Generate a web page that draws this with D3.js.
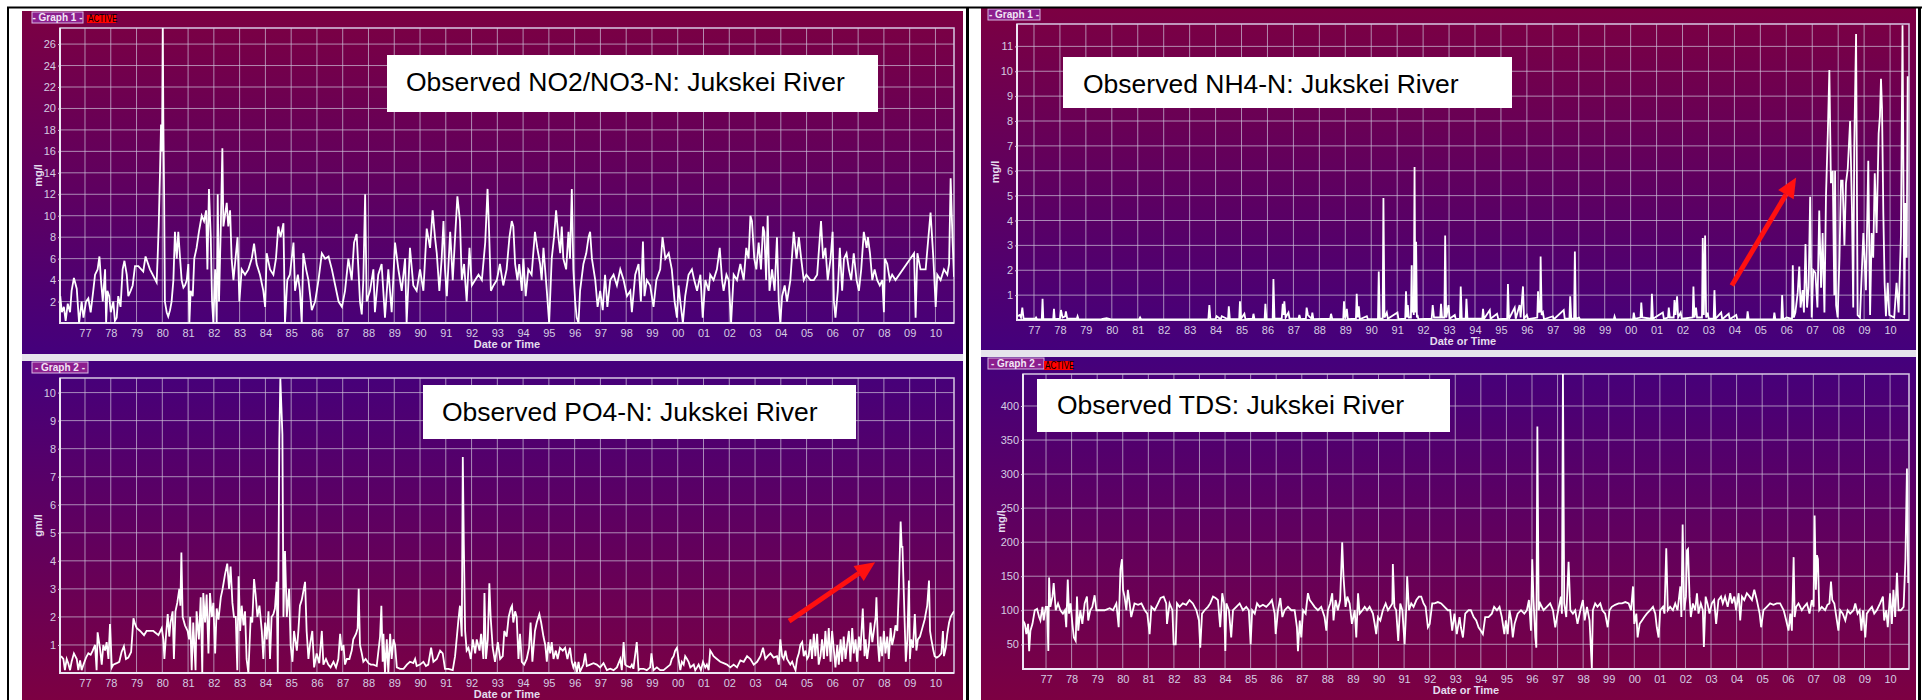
<!DOCTYPE html>
<html>
<head>
<meta charset="utf-8">
<script src="https://cdn.jsdelivr.net/npm/d3@7"></script>
<style>
  body { margin: 0; background: #fff; }
  svg { display: block; }
</style>
</head>
<body>
<script>
// ---- data (decimal years since 1900, concentration) ----
const no3 = [[76.04,2.5],[76.1,1.0],[76.18,1.5],[76.25,0.2],[76.33,1.8],[76.42,1.0],[76.48,3.0],[76.57,4.2],[76.68,3.2],[76.77,0],[76.87,2.0],[76.94,0.5],[77.04,2.0],[77.13,2.3],[77.22,1.0],[77.32,3.0],[77.39,4.5],[77.49,5.0],[77.56,6.2],[77.62,4.0],[77.69,2.0],[77.78,5.0],[77.82,0],[77.87,3.0],[77.94,2.5],[78.0,1.0],[78.1,2.0],[78.16,0.2],[78.23,0.5],[78.29,2.5],[78.38,1.5],[78.46,5.0],[78.53,5.8],[78.62,4.5],[78.68,2.5],[78.77,3.0],[78.85,3.5],[78.94,5.3],[79.07,5.3],[79.26,4.8],[79.35,6.2],[79.52,5.0],[79.78,3.8],[79.82,6.2],[79.86,9],[79.91,14],[79.95,18.5],[79.99,16],[80.02,27.5],[80.04,19],[80.07,12],[80.1,2],[80.17,1],[80.23,0.6],[80.3,1.2],[80.36,2],[80.43,4],[80.49,8.5],[80.56,6],[80.62,8.5],[80.69,6],[80.75,4],[80.82,3.3],[80.88,3.5],[80.95,4],[81.01,5.5],[81.05,0],[81.1,3],[81.18,2.5],[81.24,6],[81.33,7],[81.42,8.5],[81.53,10],[81.62,9.5],[81.7,10.5],[81.75,5],[81.81,12.5],[81.88,8],[81.93,2],[81.98,0],[82.05,5],[82.11,0],[82.15,12],[82.2,2],[82.27,9],[82.33,16.3],[82.37,9],[82.43,10],[82.5,11.2],[82.56,9],[82.63,10.5],[82.69,6],[82.76,4],[82.82,5.5],[82.92,8],[82.99,2],[83.08,5],[83.21,4.5],[83.34,5],[83.47,6],[83.56,7.4],[83.66,5.5],[83.79,4.5],[83.92,3],[83.99,1.5],[84.05,6.5],[84.18,5],[84.31,4.5],[84.41,6],[84.5,9],[84.59,8],[84.7,9.3],[84.76,0],[84.85,4],[84.95,4.5],[85.09,7.5],[85.15,3],[85.26,4.5],[85.34,3],[85.41,0],[85.47,6.5],[85.58,5],[85.67,4],[85.8,1.2],[85.93,2],[86.06,4],[86.19,6.5],[86.32,6],[86.45,6.2],[86.58,5],[86.71,3.5],[86.84,2],[86.97,1.5],[87.09,3],[87.22,6],[87.35,4],[87.44,7.5],[87.54,8.3],[87.61,5],[87.67,2],[87.74,0.8],[87.8,4],[87.87,12],[87.93,2],[88.06,3],[88.19,5],[88.25,1],[88.38,4.5],[88.51,5.5],[88.64,0.5],[88.77,5],[88.9,1],[89.03,7.5],[89.16,5],[89.29,3],[89.42,6],[89.48,0],[89.61,7],[89.74,3.5],[89.87,3],[90.0,5],[90.13,3],[90.26,8.8],[90.39,7],[90.49,10.5],[90.58,8],[90.65,6.5],[90.75,3],[90.84,6],[90.91,9.5],[90.97,5],[91.04,2.5],[91.17,8.5],[91.27,4],[91.36,8],[91.45,11.8],[91.55,9.5],[91.62,4],[91.71,5.5],[91.81,2],[91.92,7],[92.01,3.5],[92.14,4],[92.27,4.5],[92.4,4],[92.53,7.5],[92.62,12.5],[92.68,8.5],[92.75,3],[92.85,3.5],[92.98,4],[93.1,5.5],[93.23,3.5],[93.36,5],[93.47,8],[93.56,9.5],[93.62,9],[93.69,5.5],[93.78,4],[93.85,5.5],[93.95,3],[94.01,6],[94.1,2.5],[94.2,5],[94.33,4.5],[94.46,8.5],[94.55,7],[94.66,5.5],[94.72,4],[94.79,7],[94.92,3],[95.01,0],[95.11,6],[95.2,8],[95.28,10.5],[95.37,8],[95.44,6.5],[95.5,9],[95.56,6],[95.67,5],[95.76,8.5],[95.82,6],[95.89,12.5],[95.95,5],[96.02,2],[96.08,0.5],[96.15,0],[96.21,3],[96.34,5.5],[96.45,6.5],[96.54,8],[96.6,8.5],[96.67,6],[96.8,4],[96.89,1.5],[96.99,3],[97.09,1.2],[97.18,4.5],[97.27,1.5],[97.38,4],[97.51,4.5],[97.64,3.5],[97.77,5],[97.9,4],[98.03,2.5],[98.16,3],[98.22,1],[98.35,4.5],[98.48,5.5],[98.57,2],[98.65,7.6],[98.71,2.5],[98.8,4],[98.93,3.5],[99.06,1.5],[99.17,4],[99.32,5],[99.41,8],[99.52,6],[99.65,6.5],[99.77,5],[99.88,2],[99.97,0.5],[100.03,3.5],[100.1,2],[100.2,0],[100.29,2.5],[100.42,4.5],[100.55,5],[100.64,4],[100.75,3],[100.88,4.5],[100.97,0.5],[101.07,4],[101.2,3],[101.26,4.5],[101.39,4],[101.52,5],[101.63,7],[101.72,4],[101.78,3],[101.89,4.5],[101.98,4],[102.07,0],[102.17,4.5],[102.3,4],[102.43,5.5],[102.56,4],[102.66,7],[102.75,6],[102.82,10],[102.88,9.5],[102.97,6],[103.05,5],[103.14,7.5],[103.23,5],[103.31,9],[103.36,8.5],[103.43,4],[103.49,10],[103.56,3],[103.66,5],[103.76,3],[103.85,8],[103.92,2],[103.98,0],[104.05,2.5],[104.15,3.5],[104.24,2],[104.37,4],[104.5,8.5],[104.61,6],[104.7,8],[104.79,6],[104.89,4],[104.99,4.5],[105.15,4],[105.28,4],[105.41,4.5],[105.56,9.5],[105.64,6],[105.73,7],[105.82,4],[105.93,6],[106.01,8.5],[106.06,2],[106.12,0.5],[106.21,3],[106.29,7],[106.38,3],[106.45,6],[106.55,6.5],[106.64,5],[106.73,4],[106.83,6.5],[106.94,4],[107.03,3],[107.12,5],[107.22,8.5],[107.33,7],[107.38,8],[107.46,6.5],[107.55,4],[107.64,5],[107.74,4],[107.84,3.5],[107.94,4],[108.0,1],[108.04,6],[108.13,5.5],[108.23,4],[108.32,4.5],[108.45,4],[109.17,6.5],[109.23,0.5],[109.3,6.5],[109.42,5],[109.62,5],[109.81,10.3],[109.92,6],[110.01,1.5],[110.07,4.5],[110.2,4],[110.33,5],[110.46,4.5],[110.53,5.5],[110.59,13.5],[110.66,8],[110.72,4.3]];

const nh4 = [[76.36,0.15],[76.45,0.2],[76.5,0.1],[76.55,0.5],[76.6,0.05],[77.05,0.05],[77.08,0.1],[77.12,0.02],[77.3,0.02],[77.33,0.85],[77.36,0.03],[77.74,0.03],[77.77,0.45],[77.8,0.03],[78.0,0.05],[78.04,0.4],[78.1,0.1],[78.2,0.15],[78.23,0.35],[78.28,0.05],[78.65,0.05],[78.68,0.15],[78.72,0.02],[79.6,0.03],[79.8,0.07],[80.0,0.02],[81.05,0.02],[81.09,0.1],[81.13,0.02],[83.72,0.02],[83.76,0.6],[83.8,0.03],[84.0,0.03],[84.04,0.15],[84.2,0.03],[84.24,0.15],[84.48,0.03],[84.51,0.55],[84.55,0.03],[84.91,0.03],[84.94,0.75],[84.98,0.05],[85.11,0.25],[85.15,0.03],[85.43,0.05],[85.46,0.25],[85.5,0.03],[85.89,0.03],[85.92,0.65],[85.96,0.03],[86.2,0.03],[86.23,1.65],[86.27,0.05],[86.55,0.05],[86.59,0.65],[86.62,0.2],[86.65,0.75],[86.7,0.1],[86.81,0.3],[86.85,0.05],[87.2,0.05],[87.23,0.2],[87.27,0.03],[87.48,0.05],[87.51,0.5],[87.56,0.2],[87.7,0.05],[87.73,0.3],[87.77,0.03],[88.42,0.05],[88.45,0.25],[88.5,0.03],[88.92,0.03],[88.95,0.75],[89.0,0.05],[89.06,0.45],[89.1,0.03],[89.41,0.05],[89.44,1.05],[89.48,0.1],[89.52,0.55],[89.56,0.03],[89.83,0.15],[89.87,0.03],[90.26,0.03],[90.29,1.95],[90.33,0.05],[90.44,0.05],[90.47,4.9],[90.51,0.1],[90.6,0.3],[90.64,0.05],[91.01,0.3],[91.05,0.03],[91.31,0.05],[91.34,1.15],[91.38,0.1],[91.41,0.6],[91.45,0.1],[91.53,0.1],[91.56,2.2],[91.58,0.3],[91.6,0.9],[91.64,0.2],[91.67,6.15],[91.7,0.3],[91.73,3.15],[91.76,0.1],[91.78,0.2],[91.82,0.03],[92.33,0.05],[92.37,0.6],[92.42,0.1],[92.66,0.1],[92.69,0.65],[92.73,0.1],[92.82,0.1],[92.85,3.4],[92.89,0.1],[92.98,0.6],[93.02,0.05],[93.22,0.2],[93.26,0.03],[93.42,0.05],[93.45,1.35],[93.49,0.05],[93.64,0.05],[93.67,0.85],[93.71,0.05],[94.28,0.05],[94.31,0.45],[94.35,0.05],[94.57,0.4],[94.6,0.05],[94.85,0.25],[94.9,0.03],[95.24,0.05],[95.27,1.45],[95.31,0.05],[95.53,0.5],[95.57,0.05],[95.72,0.6],[95.76,0.1],[95.85,1.35],[95.89,0.05],[96.0,0.2],[96.05,0.03],[96.4,0.1],[96.43,1.15],[96.46,0.3],[96.49,0.6],[96.51,0.3],[96.53,2.55],[96.57,0.2],[96.62,0.3],[96.66,0.03],[97.0,0.15],[97.04,0.03],[97.42,0.4],[97.46,0.05],[97.64,0.05],[97.67,0.95],[97.71,0.05],[97.82,0.05],[97.85,2.75],[97.89,0.05],[98.01,0.1],[98.05,0.02],[99.35,0.02],[99.38,0.15],[99.42,0.02],[100.09,0.02],[100.12,0.3],[100.16,0.05],[100.38,0.1],[100.41,0.7],[100.45,0.1],[100.79,0.05],[100.82,1.05],[100.86,0.05],[101.24,0.3],[101.28,0.05],[101.44,0.1],[101.47,0.5],[101.51,0.1],[101.66,0.1],[101.69,0.8],[101.73,0.2],[101.79,0.95],[101.83,0.1],[101.93,0.3],[101.97,0.05],[102.39,0.1],[102.42,1.35],[102.46,0.1],[102.52,0.5],[102.56,0.1],[102.75,0.1],[102.78,3.3],[102.82,0.2],[102.87,3.4],[102.91,0.1],[102.97,0.3],[103.01,0.05],[103.2,0.05],[103.23,1.2],[103.27,0.05],[103.49,0.3],[103.53,0.03],[103.78,0.25],[103.82,0.03],[104.07,0.2],[104.11,0.02],[104.48,0.02],[104.51,0.35],[104.55,0.02],[105.51,0.02],[105.54,0.3],[105.58,0.02],[105.81,0.02],[105.84,1.0],[105.88,0.02],[106.02,0.1],[106.22,0.05],[106.25,2.2],[106.29,0.1],[106.35,0.3],[106.44,1.1],[106.5,2.15],[106.55,0.5],[106.63,1.2],[106.68,0.3],[106.74,3.05],[106.8,0.5],[106.86,1.3],[106.92,4.95],[106.98,0.1],[107.04,2.0],[107.12,1.9],[107.2,0.5],[107.27,4.4],[107.34,1.3],[107.4,3.5],[107.47,0.3],[107.53,5.0],[107.6,7.5],[107.66,10.05],[107.72,5.5],[107.79,6.0],[107.85,1.0],[107.88,6.0],[107.92,0.6],[107.98,0.1],[108.05,2.5],[108.11,5.6],[108.17,5.6],[108.24,3.0],[108.3,5.5],[108.37,6.1],[108.46,8.0],[108.53,4.5],[108.58,0.5],[108.62,7.0],[108.69,11.5],[108.75,0.2],[108.84,0.1],[108.97,3.5],[109.07,1.2],[109.16,6.4],[109.23,0.2],[109.29,3.5],[109.35,2.5],[109.41,5.9],[109.48,3.5],[109.56,7.5],[109.61,8.2],[109.65,9.7],[109.69,8.5],[109.74,4.3],[109.79,1.5],[109.84,0.15],[109.91,1.5],[109.97,0.2],[110.16,0.1],[110.25,1.5],[110.33,0.3],[110.42,3.4],[110.48,11.85],[110.55,0.2],[110.59,4.7],[110.64,2.5],[110.68,9.8]];

const po4 = [[76.07,0.6],[76.16,0.5],[76.22,0.1],[76.29,0.5],[76.35,0.35],[76.42,0.1],[76.48,0.4],[76.57,0.7],[76.68,0.5],[76.74,0.1],[76.81,0.45],[76.87,0.1],[76.94,0.3],[77.04,0.55],[77.13,0.7],[77.22,0.65],[77.3,0.8],[77.39,1.0],[77.45,0.1],[77.49,1.45],[77.58,0.9],[77.65,0.3],[77.71,1.0],[77.78,0.8],[77.84,1.1],[77.91,0.5],[77.97,1.75],[78.04,0.2],[78.1,0.3],[78.23,0.35],[78.33,0.4],[78.42,0.75],[78.51,0.95],[78.59,0.5],[78.68,0.55],[78.79,0.75],[78.88,1.95],[78.94,1.75],[79.01,1.6],[79.14,1.5],[79.29,1.35],[79.39,1.5],[79.65,1.5],[79.85,1.35],[79.98,1.6],[80.04,1.2],[80.08,0.5],[80.14,1.3],[80.21,2.1],[80.27,1.3],[80.32,1.8],[80.4,2.2],[80.45,0.5],[80.51,2.2],[80.58,2.5],[80.66,3.0],[80.7,2.4],[80.74,4.3],[80.79,2.0],[80.88,1.7],[80.98,1.5],[81.04,1.2],[81.08,2.0],[81.14,0.1],[81.2,1.8],[81.29,0.1],[81.33,2.2],[81.42,1.2],[81.49,2.7],[81.55,0],[81.59,2.85],[81.66,1.8],[81.72,2.8],[81.79,0.7],[81.85,2.85],[81.92,2.0],[81.98,2.5],[82.05,0.7],[82.11,2.3],[82.18,1.9],[82.27,2.7],[82.34,3.0],[82.43,3.5],[82.52,3.9],[82.59,3.0],[82.65,3.8],[82.72,2.5],[82.78,2.0],[82.85,2.0],[82.91,0.1],[82.96,3.45],[83.02,1.5],[83.08,2.4],[83.15,1.7],[83.21,2.2],[83.27,0.5],[83.34,0],[83.43,2.0],[83.49,1.8],[83.56,3.35],[83.62,2.8],[83.69,2.0],[83.77,2.4],[83.86,1.5],[83.92,0.5],[83.99,1.8],[84.05,1.2],[84.12,2.2],[84.18,0.5],[84.24,2.0],[84.31,2.1],[84.37,2.3],[84.44,3.25],[84.48,0],[84.54,8.3],[84.58,10.5],[84.62,9.5],[84.66,8.5],[84.7,2.0],[84.76,4.35],[84.83,2.0],[84.92,3.0],[84.98,1.0],[85.05,0.4],[85.11,1.5],[85.22,0.8],[85.28,1.5],[85.34,2.4],[85.41,2.6],[85.47,2.9],[85.54,3.25],[85.6,1.5],[85.67,0.5],[85.73,1.0],[85.82,1.5],[85.89,0.2],[85.99,0.7],[86.09,0.35],[86.19,1.5],[86.25,0.3],[86.35,0.5],[86.44,0.3],[86.53,0.2],[86.64,0.4],[86.74,0.2],[86.83,0.5],[86.9,1.4],[86.96,0.8],[87.03,1.0],[87.09,0.3],[87.16,0.5],[87.26,0.5],[87.35,0.8],[87.41,1.2],[87.52,1.4],[87.58,1.6],[87.62,3.0],[87.67,1.0],[87.74,0.7],[87.8,0.4],[87.89,0.5],[88.0,0.35],[88.09,0.3],[88.19,0.3],[88.32,0.25],[88.45,1.3],[88.5,2.4],[88.55,0.4],[88.58,1.4],[88.64,0],[88.71,1.2],[88.77,0],[88.84,1.4],[88.9,0.5],[88.97,1.2],[89.03,1.0],[89.1,0.2],[89.23,0.15],[89.36,0.15],[89.49,0.3],[89.61,0.4],[89.74,0.35],[89.81,0.5],[89.87,0.25],[90.0,0.3],[90.13,0.4],[90.23,0.25],[90.32,0.3],[90.43,0.9],[90.52,0.4],[90.65,0.5],[90.78,0.8],[90.88,0.7],[90.97,0.15],[91.1,0.15],[91.27,0.1],[91.36,0.6],[91.43,1.3],[91.49,1.9],[91.55,2.4],[91.62,1.3],[91.66,7.7],[91.7,4.6],[91.75,1.5],[91.81,0.8],[91.88,0.9],[91.97,0.5],[92.05,1.2],[92.14,0.7],[92.2,1.2],[92.31,0.8],[92.37,1.4],[92.46,0.5],[92.5,2.85],[92.56,0.5],[92.63,1.2],[92.69,3.2],[92.74,2.0],[92.82,0.9],[92.91,0.4],[93.02,1.1],[93.11,0.5],[93.21,0.6],[93.27,1.5],[93.36,1.3],[93.44,2.0],[93.52,2.3],[93.57,2.4],[93.62,1.8],[93.69,2.2],[93.75,2.0],[93.82,0.5],[93.88,1.4],[93.95,0.4],[94.04,0.3],[94.14,0.5],[94.23,0.9],[94.29,1.8],[94.36,0.4],[94.46,1.5],[94.53,1.8],[94.63,2.1],[94.7,1.8],[94.79,1.3],[94.86,1.0],[94.92,0.4],[94.98,1.1],[95.05,0.7],[95.11,1.1],[95.18,0.5],[95.27,0.8],[95.34,0.5],[95.43,0.9],[95.54,0.8],[95.63,0.9],[95.72,0.5],[95.82,0.9],[95.89,0.4],[95.95,0.2],[96.02,0.4],[96.08,0],[96.15,0.4],[96.21,0.05],[96.34,0.3],[96.41,0.7],[96.47,0.25],[96.6,0.3],[96.73,0.35],[96.86,0.3],[96.99,0.2],[97.12,0.35],[97.25,0.1],[97.38,0.15],[97.51,0.1],[97.64,0.2],[97.77,0.5],[97.83,0.1],[97.9,1.1],[97.96,0.3],[98.03,0.25],[98.16,0.2],[98.22,0.3],[98.28,0.15],[98.41,1.1],[98.48,0.1],[98.54,0.15],[98.67,0.15],[98.8,0.1],[98.93,0.2],[98.98,0.7],[99.06,0.1],[99.19,0.2],[99.32,0.1],[99.45,0.1],[99.58,0.2],[99.71,0.3],[99.77,0.5],[99.84,0.6],[99.9,0.8],[99.97,0.9],[100.03,0.5],[100.1,0.1],[100.16,0.4],[100.23,0.3],[100.29,0.6],[100.36,0.5],[100.42,0.4],[100.49,0.2],[100.62,0.3],[100.68,0.1],[100.75,0.2],[100.81,0.3],[100.9,0.1],[100.98,0.4],[101.07,0.2],[101.13,0.3],[101.2,0.1],[101.26,0.8],[101.33,0.7],[101.39,0.6],[101.52,0.5],[101.65,0.4],[101.78,0.35],[101.91,0.3],[102.04,0.2],[102.17,0.3],[102.3,0.2],[102.43,0.45],[102.56,0.4],[102.69,0.6],[102.82,0.5],[102.95,0.3],[103.08,0.4],[103.21,0.6],[103.31,0.9],[103.4,0.5],[103.49,0.6],[103.6,0.7],[103.72,0.55],[103.85,0.6],[103.92,0.3],[103.98,1.2],[104.05,0.6],[104.11,0.5],[104.18,0.8],[104.24,0.5],[104.37,0.3],[104.44,0.4],[104.5,0.25],[104.57,0.1],[104.63,0.5],[104.7,0.7],[104.76,1.0],[104.83,1.1],[104.89,0.6],[104.96,0.8],[105.02,0.5],[105.08,0.6],[105.15,1.2],[105.21,0.5],[105.28,1.4],[105.34,0.6],[105.41,1.4],[105.47,0.3],[105.54,0.6],[105.6,1.2],[105.67,0.5],[105.73,1.5],[105.8,0.6],[105.86,1.6],[105.93,0.4],[105.99,1.5],[106.06,0.8],[106.12,0.2],[106.19,1.0],[106.25,0.3],[106.32,1.2],[106.38,0.4],[106.44,1.3],[106.51,0.5],[106.57,1.0],[106.64,1.5],[106.7,0.4],[106.77,1.6],[106.83,0.7],[106.9,1.2],[106.96,0.4],[107.03,1.3],[107.09,0.8],[107.18,2.3],[107.25,0.6],[107.29,1.2],[107.35,0.5],[107.42,1.0],[107.48,1.8],[107.55,1.1],[107.61,1.5],[107.68,2.0],[107.71,2.7],[107.77,1.0],[107.82,0.4],[107.87,1.3],[107.93,0.6],[108.0,1.5],[108.06,0.7],[108.13,1.3],[108.19,0.5],[108.26,1.6],[108.32,1.0],[108.39,1.3],[108.45,1.7],[108.52,1.5],[108.58,3.0],[108.65,5.4],[108.69,4.5],[108.72,4.5],[108.78,2.6],[108.85,0.4],[108.91,1.2],[108.97,3.3],[109.01,0.5],[109.06,1.2],[109.13,0.9],[109.2,2.1],[109.26,0.8],[109.32,1.2],[109.4,1.3],[109.49,1.6],[109.58,1.9],[109.68,2.4],[109.75,3.3],[109.79,1.5],[109.84,1.2],[109.92,0.8],[109.97,0.6],[110.05,0.55],[110.14,0.6],[110.23,0.7],[110.29,1.5],[110.33,0.6],[110.4,0.9],[110.46,1.4],[110.53,1.8],[110.59,2.0],[110.65,2.1],[110.72,2.2]];

const tds = [[76.1,85],[76.17,80],[76.23,65],[76.3,80],[76.34,40],[76.39,70],[76.47,80],[76.56,100],[76.65,102],[76.73,90],[76.78,85],[76.86,105],[76.91,85],[76.99,105],[77.04,105],[77.09,40],[77.12,148],[77.17,105],[77.25,120],[77.3,140],[77.38,100],[77.47,110],[77.56,100],[77.66,95],[77.74,100],[77.79,75],[77.85,145],[77.9,95],[77.96,110],[78.03,80],[78.09,60],[78.16,55],[78.21,120],[78.26,70],[78.34,100],[78.42,80],[78.51,110],[78.6,120],[78.65,85],[78.73,100],[78.81,105],[78.9,122],[78.97,100],[79.1,100],[79.29,100],[79.49,103],[79.62,100],[79.75,110],[79.84,75],[79.91,160],[79.97,175],[80.01,130],[80.07,120],[80.14,100],[80.2,130],[80.27,110],[80.33,90],[80.46,110],[80.6,108],[80.73,110],[80.86,100],[80.96,95],[81.05,65],[81.12,105],[81.25,100],[81.38,110],[81.48,118],[81.6,120],[81.7,110],[81.73,80],[81.83,110],[81.94,100],[81.99,50],[82.07,50],[82.12,110],[82.22,105],[82.35,110],[82.48,108],[82.61,115],[82.74,110],[82.88,100],[82.98,85],[83.03,45],[83.1,95],[83.2,100],[83.33,105],[83.42,110],[83.53,120],[83.63,118],[83.72,115],[83.81,75],[83.89,125],[83.96,110],[84.01,40],[84.05,110],[84.15,100],[84.24,60],[84.31,100],[84.44,105],[84.57,110],[84.7,100],[84.83,105],[84.93,100],[85.0,50],[85.06,100],[85.16,95],[85.25,110],[85.35,105],[85.48,108],[85.61,105],[85.74,110],[85.83,115],[85.94,95],[85.98,65],[86.07,100],[86.16,118],[86.24,90],[86.33,100],[86.46,105],[86.59,100],[86.72,100],[86.81,75],[86.85,40],[86.92,85],[86.98,60],[87.05,100],[87.15,95],[87.24,125],[87.31,115],[87.41,110],[87.5,105],[87.63,100],[87.76,105],[87.89,90],[87.96,70],[88.02,100],[88.11,110],[88.19,125],[88.24,85],[88.32,115],[88.41,100],[88.5,115],[88.58,200],[88.63,150],[88.71,105],[88.78,120],[88.87,110],[88.96,80],[89.07,100],[89.13,60],[89.2,125],[89.26,95],[89.37,100],[89.46,105],[89.55,100],[89.65,105],[89.78,95],[89.85,80],[89.91,65],[89.98,90],[90.07,85],[90.17,100],[90.28,110],[90.37,100],[90.46,105],[90.54,110],[90.56,168],[90.62,105],[90.69,100],[90.77,55],[90.85,110],[90.93,100],[91.02,50],[91.09,110],[91.12,150],[91.19,100],[91.28,110],[91.37,105],[91.48,115],[91.58,120],[91.67,120],[91.76,110],[91.84,105],[91.93,75],[92.0,80],[92.1,110],[92.19,110],[92.32,112],[92.45,110],[92.58,105],[92.71,100],[92.8,100],[92.88,70],[92.97,95],[93.06,65],[93.17,90],[93.22,75],[93.3,60],[93.39,95],[93.52,100],[93.61,100],[93.72,90],[93.82,85],[93.91,75],[94.0,70],[94.08,65],[94.17,90],[94.3,90],[94.43,95],[94.52,105],[94.63,100],[94.73,105],[94.82,90],[94.92,65],[94.98,85],[95.05,65],[95.12,100],[95.19,85],[95.25,60],[95.32,80],[95.44,95],[95.57,100],[95.7,95],[95.8,100],[95.88,115],[95.96,70],[96.01,175],[96.06,115],[96.13,60],[96.17,45],[96.21,370],[96.26,100],[96.32,110],[96.45,100],[96.58,105],[96.71,110],[96.82,100],[96.91,75],[97.0,95],[97.08,110],[97.13,120],[97.17,95],[97.21,447],[97.26,110],[97.34,90],[97.43,171],[97.5,100],[97.6,95],[97.69,100],[97.78,80],[97.89,100],[97.99,115],[98.06,85],[98.15,105],[98.25,85],[98.34,15],[98.38,100],[98.47,110],[98.56,105],[98.67,110],[98.75,100],[98.86,95],[98.96,75],[99.03,100],[99.12,105],[99.25,108],[99.39,110],[99.52,110],[99.65,112],[99.78,110],[99.87,100],[99.95,135],[100.0,80],[100.08,95],[100.13,60],[100.21,80],[100.3,85],[100.39,90],[100.49,95],[100.62,100],[100.73,105],[100.82,95],[100.88,75],[100.95,60],[101.01,100],[101.12,105],[101.18,95],[101.25,191],[101.31,100],[101.4,105],[101.51,100],[101.6,110],[101.69,100],[101.8,135],[101.84,90],[101.89,226],[101.95,100],[102.02,120],[102.06,188],[102.1,190],[102.16,120],[102.21,90],[102.29,110],[102.38,100],[102.45,125],[102.51,95],[102.6,110],[102.68,100],[102.72,46],[102.79,120],[102.86,110],[102.94,95],[103.03,110],[103.12,115],[103.2,80],[103.29,115],[103.39,120],[103.46,110],[103.55,120],[103.65,105],[103.75,125],[103.82,110],[103.91,120],[103.98,100],[104.08,125],[104.14,85],[104.21,120],[104.3,115],[104.4,125],[104.51,120],[104.6,115],[104.69,130],[104.79,115],[104.9,95],[104.96,75],[105.05,100],[105.18,105],[105.31,110],[105.44,108],[105.57,110],[105.7,110],[105.84,100],[105.94,85],[106.03,70],[106.1,95],[106.16,70],[106.23,178],[106.27,90],[106.33,105],[106.42,110],[106.55,100],[106.64,105],[106.75,110],[106.85,95],[106.94,115],[107.01,105],[107.05,239],[107.1,130],[107.14,181],[107.18,175],[107.23,100],[107.33,105],[107.46,100],[107.55,108],[107.63,110],[107.69,142],[107.74,115],[107.82,110],[107.92,85],[107.98,70],[108.05,100],[108.15,95],[108.25,85],[108.34,100],[108.44,95],[108.57,100],[108.64,110],[108.73,95],[108.81,100],[108.88,70],[108.94,100],[109.03,60],[109.09,95],[109.18,100],[109.29,105],[109.38,95],[109.48,100],[109.61,110],[109.72,120],[109.77,85],[109.85,100],[109.91,75],[110.0,125],[110.07,80],[110.13,130],[110.2,90],[110.27,155],[110.33,100],[110.42,100],[110.53,105],[110.6,175],[110.66,308],[110.71,140]];

// ---- ticks and labels ----
const yearTicks = [77,78,79,80,81,82,83,84,85,86,87,88,89,90,91,92,93,94,95,96,97,98,99,100,101,102,103,104,105,106,107,108,109,110];
const yearLabels = ["77","78","79","80","81","82","83","84","85","86","87","88","89","90","91","92","93","94","95","96","97","98","99","00","01","02","03","04","05","06","07","08","09","10"];
const no3Ticks = [2,4,6,8,10,12,14,16,18,20,22,24,26];
const nh4Ticks = [1,2,3,4,5,6,7,8,9,10,11];
const po4Ticks = [1,2,3,4,5,6,7,8,9,10];
const tdsTicks = [50,100,150,200,250,300,350,400];
const titles = ["Observed NO2/NO3-N: Jukskei River", "Observed NH4-N: Jukskei River",
                "Observed PO4-N: Jukskei River", "Observed TDS: Jukskei River"];
const units = ["mg/l", "mg/l", "gm/l", "mg/l"];
const graphTags = ["- Graph 1 -", "- Graph 1 -", "- Graph 2 -", "- Graph 2 -"];
// trend arrows drawn in data space [from, to]
const nh4Arrow = [[103.9, 1.39], [106.38, 5.73]];
const po4Arrow = [[104.32, 1.85], [107.66, 3.95]];

// ---- layout ----
const W = 1927, H = 700;
const FONT = "'Liberation Sans', Arial, sans-serif";

const layouts = [
  { series: no3, ticks: no3Ticks, yDom: [0, 27.5], xDom: [76.03, 110.72],
    panel: [22, 11, 963, 354], plot: [60, 28, 954, 323], grad: "gDown",
    tag: [32, 12, 51, 11], active: [87, 15, 29, 8],
    tbox: [387, 55, 491, 57], tpos: [406, 91], arrow: null },
  { series: nh4, ticks: nh4Ticks, yDom: [0, 11.9], xDom: [76.345, 110.73],
    panel: [981, 8, 1916, 350], plot: [1017, 24, 1909, 320], grad: "gDown",
    tag: [988, 9, 52, 11], active: null,
    tbox: [1063, 57, 449, 51], tpos: [1083, 92.5], arrow: nh4Arrow },
  { series: po4, ticks: po4Ticks, yDom: [0, 10.52], xDom: [76.03, 110.72],
    panel: [22, 361, 963, 700], plot: [60, 378, 954, 673], grad: "gUp",
    tag: [32, 362, 56, 11], active: null,
    tbox: [423, 385, 433, 54], tpos: [442, 421], arrow: po4Arrow },
  { series: tds, ticks: tdsTicks, yDom: [13.7, 447], xDom: [76.1, 110.74],
    panel: [981, 357, 1916, 700], plot: [1023, 374, 1909, 669], grad: "gUp",
    tag: [988, 358, 56, 11], active: [1044, 361, 29, 9],
    tbox: [1037, 379, 413, 53], tpos: [1057, 414], arrow: null }
];

const svg = d3.select("body").append("svg")
  .attr("width", W).attr("height", H)
  .style("font-family", FONT);

const defs = svg.append("defs");
function addGrad(id, top, bottom) {
  const g = defs.append("linearGradient").attr("id", id)
    .attr("x1", 0).attr("y1", 0).attr("x2", 0).attr("y2", 1);
  g.append("stop").attr("offset", "0%").attr("stop-color", top);
  g.append("stop").attr("offset", "100%").attr("stop-color", bottom);
}
addGrad("gDown", "#7c0042", "#44007c");
addGrad("gUp", "#44007c", "#7c0042");

// light separators between upper and lower graphs
svg.append("rect").attr("x", 22).attr("y", 354).attr("width", 941).attr("height", 7).attr("fill", "#e6e4ec");
svg.append("rect").attr("x", 981).attr("y", 350).attr("width", 935).attr("height", 7).attr("fill", "#e6e4ec");

layouts.forEach(function(L, i) {
  const [px0, py0, px1, py1] = L.panel;
  const [x0, y0, x1, y1] = L.plot;

  svg.append("rect")
    .attr("x", px0).attr("y", py0)
    .attr("width", px1 - px0).attr("height", py1 - py0)
    .attr("fill", "url(#" + L.grad + ")");

  const x = d3.scaleLinear().domain(L.xDom).range([x0, x1]);
  const y = d3.scaleLinear().domain(L.yDom).range([y1, y0]);

  const g = svg.append("g");

  // grid
  g.selectAll(".vg").data(yearTicks).enter().append("line")
    .attr("x1", d => x(d)).attr("x2", d => x(d))
    .attr("y1", y0).attr("y2", y1)
    .attr("stroke", "#cfc3da").attr("stroke-opacity", 0.7).attr("stroke-width", 1);
  g.selectAll(".hg").data(L.ticks).enter().append("line")
    .attr("x1", x0).attr("x2", x1)
    .attr("y1", d => y(d)).attr("y2", d => y(d))
    .attr("stroke", "#cfc3da").attr("stroke-opacity", 0.7).attr("stroke-width", 1);

  // frame
  g.append("rect")
    .attr("x", x0).attr("y", y0).attr("width", x1 - x0).attr("height", y1 - y0)
    .attr("fill", "none").attr("stroke", "#d6c8e2").attr("stroke-width", 1.5);
  g.append("path")
    .attr("d", "M" + x0 + "," + y0 + "V" + y1 + "H" + x1)
    .attr("fill", "none").attr("stroke", "#eee6f4").attr("stroke-width", 2);

  // axes
  const ya = g.append("g").attr("transform", "translate(" + x0 + ",0)")
    .call(d3.axisLeft(y).tickValues(L.ticks).tickSize(2).tickPadding(2));
  const xa = g.append("g").attr("transform", "translate(0," + y1 + ")")
    .call(d3.axisBottom(x).tickValues(yearTicks).tickSize(0).tickPadding(6)
      .tickFormat((d, k) => yearLabels[k]));
  [ya, xa].forEach(function(a) {
    a.select(".domain").remove();
    a.selectAll("line").attr("stroke", "#d6c8e2");
    a.selectAll("text").attr("fill", "#d4cce2")
      .style("font-family", FONT).style("font-size", "11px");
  });

  g.append("text")
    .attr("x", (x0 + x1) / 2).attr("y", y1 + 25)
    .attr("text-anchor", "middle")
    .attr("fill", "#e4dcee").style("font-size", "11px").style("font-weight", "bold")
    .text("Date or Time");

  g.append("text")
    .attr("transform", "translate(" + (x0 - 18) + "," + ((y0 + y1) / 2) + ") rotate(-90)")
    .attr("text-anchor", "middle")
    .attr("fill", "#e4dcee").style("font-size", "11px").style("font-weight", "bold")
    .text(units[i]);

  // series line
  const clipId = "clip" + i;
  defs.append("clipPath").attr("id", clipId)
    .append("rect").attr("x", x0).attr("y", y0 - 1).attr("width", x1 - x0).attr("height", y1 - y0 + 1);

  const line = d3.line()
    .x(d => x(d[0]))
    .y(d => y(d[1]));

  g.append("path")
    .datum(L.series)
    .attr("clip-path", "url(#" + clipId + ")")
    .attr("fill", "none")
    .attr("stroke", "#ffffff")
    .attr("stroke-width", 1.8)
    .attr("stroke-linejoin", "miter")
    .attr("d", line);

  // graph tag
  const [tx, ty, tw, th] = L.tag;
  g.append("rect").attr("x", tx).attr("y", ty).attr("width", tw).attr("height", th)
    .attr("fill", "#8c1e8e").attr("stroke", "#d8b8e4").attr("stroke-width", 1);
  g.append("text").attr("x", tx + tw / 2).attr("y", ty + th - 2)
    .attr("text-anchor", "middle").attr("fill", "#f2e6f6")
    .style("font-size", "10px").style("font-weight", "bold")
    .text(graphTags[i]);

  if (L.active) {
    const [ax, ay, aw, ah] = L.active;
    g.append("rect").attr("x", ax).attr("y", ay).attr("width", aw).attr("height", ah)
      .attr("fill", "#ff0000");
    g.append("text").attr("x", ax + 1).attr("y", ay + ah - 0.5)
      .attr("fill", "#000")
      .attr("transform", "translate(" + (ax + 1) + ",0) scale(0.82,1) translate(" + (-(ax + 1)) + ",0)")
      .style("font-size", "10px")
      .text("ACTIVE");
  }

  // title box
  const [bx, by, bw, bh] = L.tbox;
  g.append("rect").attr("x", bx).attr("y", by).attr("width", bw).attr("height", bh)
    .attr("fill", "#ffffff");
  g.append("text").attr("x", L.tpos[0]).attr("y", L.tpos[1])
    .attr("fill", "#000").style("font-size", "26.5px")
    .text(titles[i]);

  // trend arrow
  if (L.arrow) {
    const [a, b] = L.arrow;
    const sx = x(a[0]), sy = y(a[1]), ex = x(b[0]), ey = y(b[1]);
    const ang = Math.atan2(ey - sy, ex - sx);
    const hl = 20, hw = 9;
    const bxp = ex - hl * Math.cos(ang), byp = ey - hl * Math.sin(ang);
    g.append("line")
      .attr("x1", sx).attr("y1", sy).attr("x2", bxp).attr("y2", byp)
      .attr("stroke", "#ff1010").attr("stroke-width", 5);
    g.append("path")
      .attr("d", "M" + ex + "," + ey +
        "L" + (bxp + hw * Math.sin(ang)) + "," + (byp - hw * Math.cos(ang)) +
        "L" + (bxp - hw * Math.sin(ang)) + "," + (byp + hw * Math.cos(ang)) + "Z")
      .attr("fill", "#ff1010");
  }
});

// black table rules
const rule = svg.append("g").attr("stroke", "#000");
rule.append("line").attr("x1", 7).attr("x2", 1922).attr("y1", 7.5).attr("y2", 7.5).attr("stroke-width", 2);
rule.append("line").attr("x1", 8).attr("x2", 8).attr("y1", 7).attr("y2", 700).attr("stroke-width", 2);
rule.append("line").attr("x1", 967.5).attr("x2", 967.5).attr("y1", 7).attr("y2", 700).attr("stroke-width", 3);
rule.append("line").attr("x1", 1919.5).attr("x2", 1919.5).attr("y1", 7).attr("y2", 700).attr("stroke-width", 3);
</script>
</body>
</html>
